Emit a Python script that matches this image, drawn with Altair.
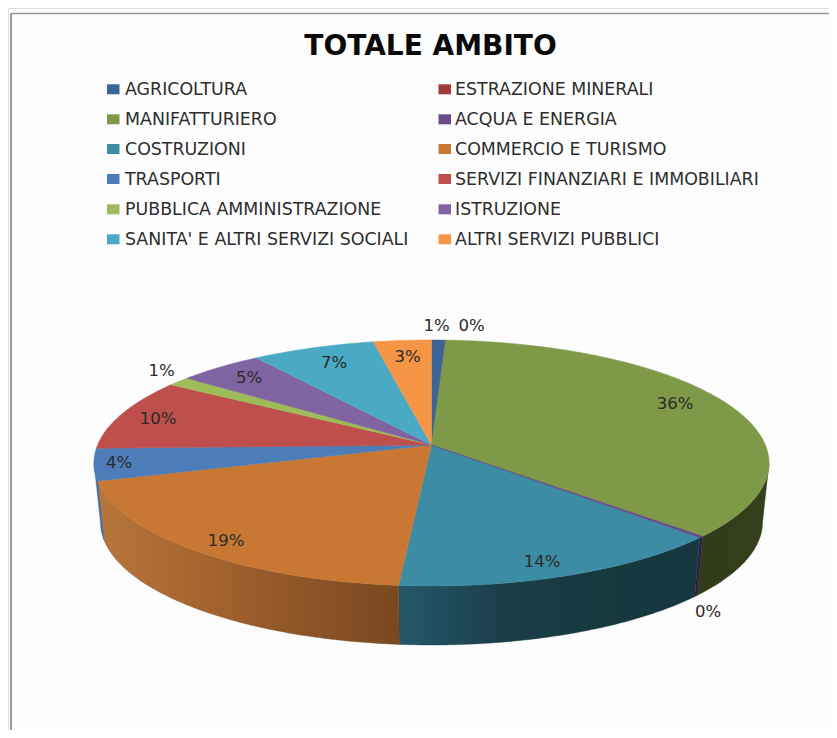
import math
import altair as alt
import pandas as pd

TITLE = "TOTALE AMBITO"
CATEGORIES = ["AGRICOLTURA", "ESTRAZIONE MINERALI", "MANIFATTURIERO", "ACQUA E ENERGIA",
              "COSTRUZIONI", "COMMERCIO E TURISMO", "TRASPORTI", "SERVIZI FINANZIARI E IMMOBILIARI",
              "PUBBLICA AMMINISTRAZIONE", "ISTRUZIONE", "SANITA' E ALTRI SERVIZI SOCIALI", "ALTRI SERVIZI PUBBLICI"]
VALUES = [0.74, 0.05, 36.2, 0.2, 14.2, 19.05, 4.2, 9.5, 1.25, 4.7, 6.8, 3.2]
COLORS = ["#3B6598", "#9E3B38", "#7E9A48", "#664B86", "#3B8CA4", "#C97834",
          "#4C7DB8", "#BE4F4C", "#9DBB59", "#8063A1", "#4AA9C5", "#F59646"]
PCT_LABELS = ["1%", "0%", "36%", "0%", "14%", "19%", "4%", "10%", "1%", "5%", "7%", "3%"]
PCT_X = [436.5, 471.5, 675, 708, 542, 226, 119, 158, 161.5, 249, 334, 407.5]
PCT_Y = [326, 326, 404, 612, 562, 541, 463, 419, 371, 378, 363, 357]
LEG_ROW_Y = [89.3, 119.3, 149, 179, 209.3, 239.3]
LEG_TEXT_X = [125, 455]
LEG_BOX_X = [107, 438.5]
WALL_STOPS = {
    "MANIFATTURIERO": ["#343F1C", "#323C1A"],
    "ACQUA E ENERGIA": ["#2E1F40", "#2E1F40"],
    "COSTRUZIONI": ["#16373F", "#16383F", "#1B3F4A", "#25586A"],
    "COMMERCIO E TURISMO": ["#7A4820", "#8F5628", "#A5652F", "#B7763A"],
    "TRASPORTI": ["#3F6A9E", "#3F6A9E"],
}

# perspective of the tilted disc
CX, CY_TOP, CY_BOT = 431.5, 463.0, 522.0
A, B, K = 123.0, 18.0, 0.1463
C_TOP, C_BOT = 333.9, 327.5
SIL0, SIL1 = 98.4, 261.6


def rim(deg, c_x, c_y):
    s, c = math.sin(math.radians(deg)), math.cos(math.radians(deg))
    d = 1 + K * c
    return [CX + c_x * s / d, c_y - (A * c + B) / d]


def arc_deg(t0, t1):
    n = max(2, int(abs(t1 - t0) * 2) + 2)
    return [t0 + (t1 - t0) * i / (n - 1) for i in range(n)]


def feature(name, ring):
    return {"type": "Feature", "properties": {"name": name},
            "geometry": {"type": "Polygon", "coordinates": [ring + [ring[0]]]}}


total = sum(VALUES)
bounds = [0.0]
for v in VALUES:
    bounds.append(bounds[-1] + v / total * 360)

top_features, wall_features = [], {}
for i, name in enumerate(CATEGORIES):
    t0, t1 = bounds[i], bounds[i + 1]
    apex = [CX, CY_TOP - B]
    top_features.append(feature(name, [apex] + [rim(t, C_TOP, CY_TOP) for t in arc_deg(t0, t1)]))
    w0, w1 = max(t0, SIL0), min(t1, SIL1)
    if w1 > w0:
        ts = arc_deg(w0, w1)
        ring = [rim(t, C_TOP, CY_TOP) for t in ts] + [rim(t, C_BOT, CY_BOT) for t in reversed(ts)]
        wall_features[name] = feature(name, ring)

# hairline slices go first / last so that neighbours' edges behave as in the picture
order = [1] + [i for i in range(12) if i not in (1, 3)] + [3]
top_features = [top_features[i] for i in order]

PROJ = dict(type="identity", scale=1, translate=[-8, -8])
xs = alt.Scale(domain=[8, 829], range=[0, 821], nice=False, zero=False)
ys = alt.Scale(domain=[8, 730], range=[0, 722], nice=False, zero=False)
X = lambda f: alt.X(f, type="quantitative", scale=xs, axis=None)
Y = lambda f: alt.Y(f, type="quantitative", scale=ys, axis=None)

layers = []

border = pd.DataFrame({"x": [11], "x2": [829], "y": [13.5], "y2": [730]})
layers.append(alt.Chart(border).mark_rule(color="#9A9A9A", strokeWidth=1.3).encode(
    x=X("x"), x2="x2", y=Y("y")))
layers.append(alt.Chart(border).mark_rule(color="#9A9A9A", strokeWidth=2).encode(
    x=X("x"), y=Y("y"), y2="y2"))

for name, feat in wall_features.items():
    st = WALL_STOPS[name]
    stops = [alt.GradientStop(offset=j / (len(st) - 1), color=c) for j, c in enumerate(st)]
    # gradients run left to right; the colours are listed from right to left
    grad = alt.Gradient(gradient="linear", x1=1, x2=0, y1=0, y2=0, stops=stops)
    layers.append(alt.Chart(alt.Data(values=[feat])).mark_geoshape(
        fill=grad, stroke=st[0], strokeWidth=0.4).project(**PROJ))

color_scale = alt.Scale(domain=CATEGORIES, range=COLORS)
layers.append(alt.Chart(alt.Data(values=top_features)).mark_geoshape(strokeWidth=0.5).encode(
    fill=alt.Fill("properties.name:N", scale=color_scale, legend=None),
    stroke=alt.Stroke("properties.name:N", scale=color_scale, legend=None),
).project(**PROJ))

pct = pd.DataFrame({"x": PCT_X, "y": PCT_Y, "t": PCT_LABELS})
layers.append(alt.Chart(pct).mark_text(font="DejaVu Sans", fontSize=16.5, color="#2A2A2A",
                                       align="center", baseline="middle").encode(
    x=X("x"), y=Y("y"), text="t:N"))

leg = pd.DataFrame({
    "name": CATEGORIES,
    "tx": [LEG_TEXT_X[i % 2] for i in range(12)],
    "bx": [LEG_BOX_X[i % 2] for i in range(12)],
    "bx2": [LEG_BOX_X[i % 2] + 12.5 for i in range(12)],
    "y": [LEG_ROW_Y[i // 2] for i in range(12)],
    "y0": [LEG_ROW_Y[i // 2] - 5 for i in range(12)],
    "y1": [LEG_ROW_Y[i // 2] + 5 for i in range(12)],
})
layers.append(alt.Chart(leg).mark_rect().encode(
    x=X("bx"), x2="bx2", y=Y("y0"), y2="y1",
    fill=alt.Fill("name:N", scale=color_scale, legend=None)))
layers.append(alt.Chart(leg).mark_text(font="DejaVu Sans", fontSize=17.4, color="#2E2E2E", dy=1,
                                       align="left", baseline="middle").encode(
    x=X("tx"), y=Y("y"), text="name:N"))

title = pd.DataFrame({"x": [430.5], "y": [46.5], "t": [TITLE]})
layers.append(alt.Chart(title).mark_text(font="DejaVu Sans", fontSize=28, fontWeight="bold", color="#0A0A0A",
                                         align="center", baseline="middle").encode(
    x=X("x"), y=Y("y"), text="t:N"))

chart = alt.layer(*layers).properties(
    width=821, height=722, padding=0,
    autosize=alt.AutoSizeParams(type="none"),
).configure_view(stroke=None).configure(background="#FDFDFD")

chart.save("out.html", embed_options={"renderer": "svg", "actions": False})
